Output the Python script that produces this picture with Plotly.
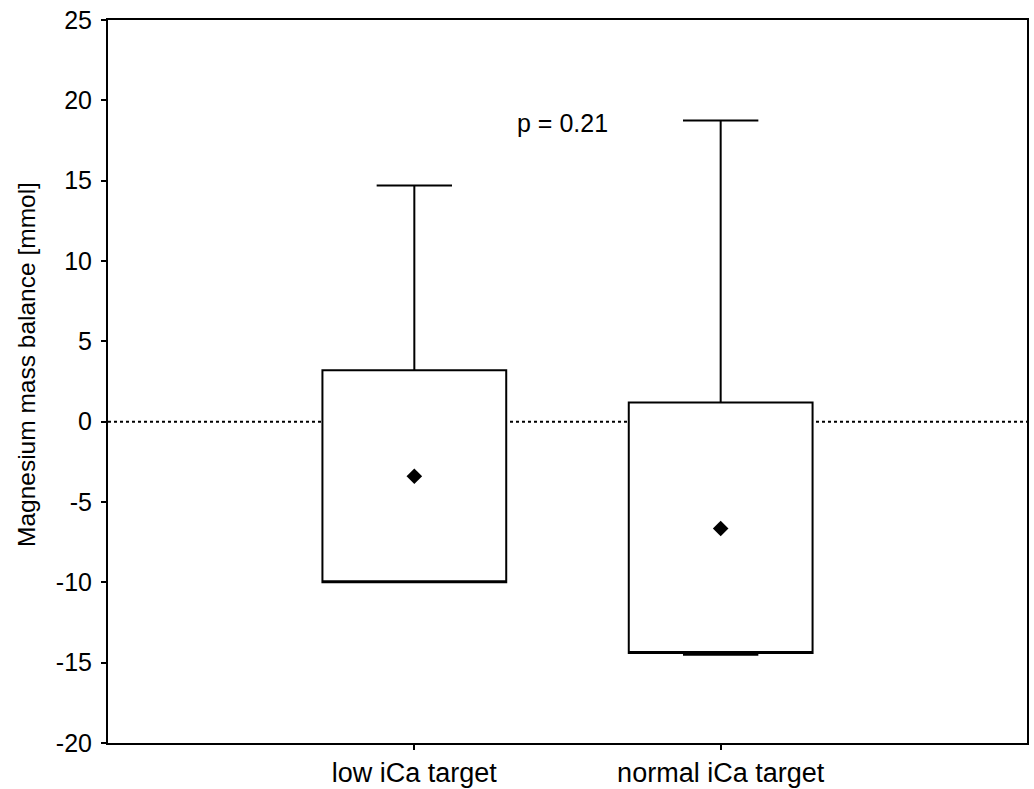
import plotly.graph_objects as go

categories = ["low iCa target", "normal iCa target"]
q1 = [-10.0, -14.4]
q3 = [3.2, 1.2]
lower = [-10.0, -14.5]
upper = [14.7, 18.75]
means = [-3.4, -6.65]
y_ticks = [-20, -15, -10, -5, 0, 5, 10, 15, 20, 25]
y_ticktext = ["-20", "-15", "-10", "-5", "0", "5", "10", "15", "20", "25"]
p_text = "p = 0.21"
y_title = "Magnesium mass balance [mmol]"

FONT = "Liberation Sans, Arial, Helvetica, sans-serif"

fig = go.Figure()

fig.add_trace(go.Box(
    x=categories, q1=q1, q3=q3, median=q1,
    lowerfence=lower, upperfence=upper,
    width=0.6, whiskerwidth=0.41,
    fillcolor="white", line=dict(color="black", width=2),
    boxpoints=False, showlegend=False, hoverinfo="skip",
))

fig.add_trace(go.Scatter(
    x=categories, y=means, mode="markers",
    marker=dict(symbol="diamond", size=12, color="black"),
    showlegend=False, hoverinfo="skip",
))

fig.add_hline(y=0, line=dict(color="black", width=2, dash="dot"), layer="below")

fig.add_annotation(x=0.485, y=18.6, text=p_text, showarrow=False,
                   font=dict(family=FONT, size=25, color="black"))

fig.add_annotation(xref="paper", yref="paper", x=-0.088, y=0.523,
                   text=y_title, textangle=-90, showarrow=False,
                   xanchor="center", yanchor="middle",
                   font=dict(family=FONT, size=24.5, color="black"))

fig.update_layout(
    width=1034, height=789,
    margin=dict(l=108, r=7, t=20, b=46, autoexpand=False),
    paper_bgcolor="white", plot_bgcolor="white",
    font=dict(family=FONT, size=25, color="black"),
    xaxis=dict(
        type="category", range=[-1, 2], automargin=False,
        showline=True, linecolor="black", linewidth=2, mirror=True,
        ticks="outside", ticklen=5, tickwidth=1.5, tickcolor="black",
        showgrid=False, zeroline=False,
        tickfont=dict(family=FONT, size=27, color="black"),
    ),
    yaxis=dict(
        range=[-20, 25], tickmode="array", tickvals=y_ticks, ticktext=y_ticktext,
        automargin=False,
        showline=True, linecolor="black", linewidth=2, mirror=True,
        ticks="outside", ticklen=5, tickwidth=1.5, tickcolor="black",
        ticklabelstandoff=4,
        showgrid=False, zeroline=False,
        tickfont=dict(family=FONT, size=25, color="black"),
    ),
)

fig.write_html("out.html")
